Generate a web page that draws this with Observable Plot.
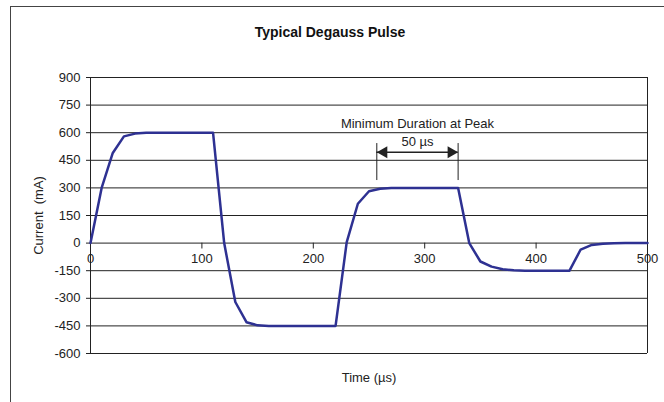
<!DOCTYPE html>
<html>
<head>
<meta charset="utf-8">
<script src="https://cdn.jsdelivr.net/npm/d3@7"></script>
<script src="https://cdn.jsdelivr.net/npm/@observablehq/plot@0.6"></script>
<style>
  html, body { margin: 0; padding: 0; background: #fff; }
  #wrap { position: relative; width: 664px; height: 402px; overflow: hidden; font-family: "Liberation Sans", Arial, sans-serif; }
  #frame { position: absolute; left: 10px; top: 6px; width: 700px; height: 420px; border-left: 1px solid #444; border-top: 1px solid #444; }
  #title { position: absolute; left: 0; width: 660px; top: 24px; text-align: center; font-weight: bold; font-size: 14px; color: #111; }
  #chart { position: absolute; left: 0; top: 0; }
</style>
</head>
<body>
<div id="wrap">
  <div id="frame"></div>
  <div id="chart"></div>
  <div id="title">Typical Degauss Pulse</div>
</div>
<script>
// ---- data ----
const time    = [0, 10, 20, 30, 40, 50, 110, 120, 130, 140, 150, 160, 220, 230, 240, 250, 260, 270, 330, 340, 350, 360, 370, 380, 390, 430, 440, 450, 460, 470, 480, 500];
const current = [0, 300, 490, 580, 595, 600, 600, 0, -320, -430, -447, -450, -450, 5, 214, 282, 295, 300, 300, 0, -100, -128, -142, -148, -150, -150, -35, -10, -3, -1, 0, 0];
const yTicks = [-600, -450, -300, -150, 0, 150, 300, 450, 600, 750, 900];
const xTicks = [0, 100, 200, 300, 400, 500];
const xLabel = "Time (µs)";
const yLabel = "Current  (mA)";
const annoTitle = "Minimum Duration at Peak";
const annoSpanLabel = "50 µs";
const annoStart = 257, annoEnd = 330;
const annoArrowY = 494;
const annoLineTop = 541, annoLineBottom = 340;
const annoTitleY = 648, annoSpanLabelY = 548, annoCenterX = 293.5;

const data = time.map((t, i) => ({t, v: current[i]}));

const tickShape = { draw(context, l) { context.moveTo(0, 0); context.lineTo(0, -l); } };

const ink = "#222";
const chart = Plot.plot({
  width: 664,
  height: 402,
  marginLeft: 90,
  marginRight: 17,
  marginTop: 77,
  marginBottom: 49,
  x: {domain: [0, 500], axis: null},
  y: {domain: [-600, 900]},
  style: {fontFamily: "'Liberation Sans', Arial, sans-serif", fontSize: "13px", color: ink, background: "transparent", overflow: "visible"},
  marks: [
    Plot.ruleY(yTicks, {stroke: ink, strokeWidth: 1}),
    Plot.ruleX([0, 500], {stroke: ink, strokeWidth: 1}),
    Plot.axisY(yTicks, {tickSize: 4, tickPadding: 6, tickFormat: d => String(d), label: null, stroke: ink, fill: ink, fontSize: 13}),
    Plot.vector(xTicks, {x: d => d, y: 0, length: 5, rotate: 180, anchor: "start", shape: tickShape, stroke: ink, strokeWidth: 1}),
    Plot.text(xTicks, {x: d => d, y: 0, dy: 16, text: d => String(d), fill: ink, fontSize: 13}),
    Plot.text([yLabel], {frameAnchor: "left", textAnchor: "middle", dx: -52, rotate: -90, text: d => d, fill: ink, fontSize: 13}),
    Plot.text([xLabel], {frameAnchor: "bottom", dy: 28, text: d => d, fill: ink, fontSize: 13}),
    // annotation
    Plot.text([annoTitle], {x: annoCenterX, y: annoTitleY, text: d => d, fill: ink, fontSize: 13}),
    Plot.text([annoSpanLabel], {x: annoCenterX, y: annoSpanLabelY, text: d => d, fill: ink, fontSize: 13}),
    Plot.ruleX([annoStart, annoEnd], {y1: annoLineBottom, y2: annoLineTop, stroke: ink, strokeWidth: 1}),
    Plot.ruleY([annoArrowY], {x1: annoStart, x2: annoEnd, stroke: ink, strokeWidth: 1.5}),
    Plot.dot([annoStart], {x: d => d, y: annoArrowY, symbol: "triangle", r: 4.5, rotate: -90, dx: 7, fill: ink, stroke: "none"}),
    Plot.dot([annoEnd], {x: d => d, y: annoArrowY, symbol: "triangle", r: 4.5, rotate: 90, dx: -7, fill: ink, stroke: "none"}),
    // pulse
    Plot.line(data, {x: "t", y: "v", stroke: "#2e3192", strokeWidth: 2.5, strokeLinejoin: "round"})
  ]
});
document.getElementById("chart").appendChild(chart);
</script>
</body>
</html>
